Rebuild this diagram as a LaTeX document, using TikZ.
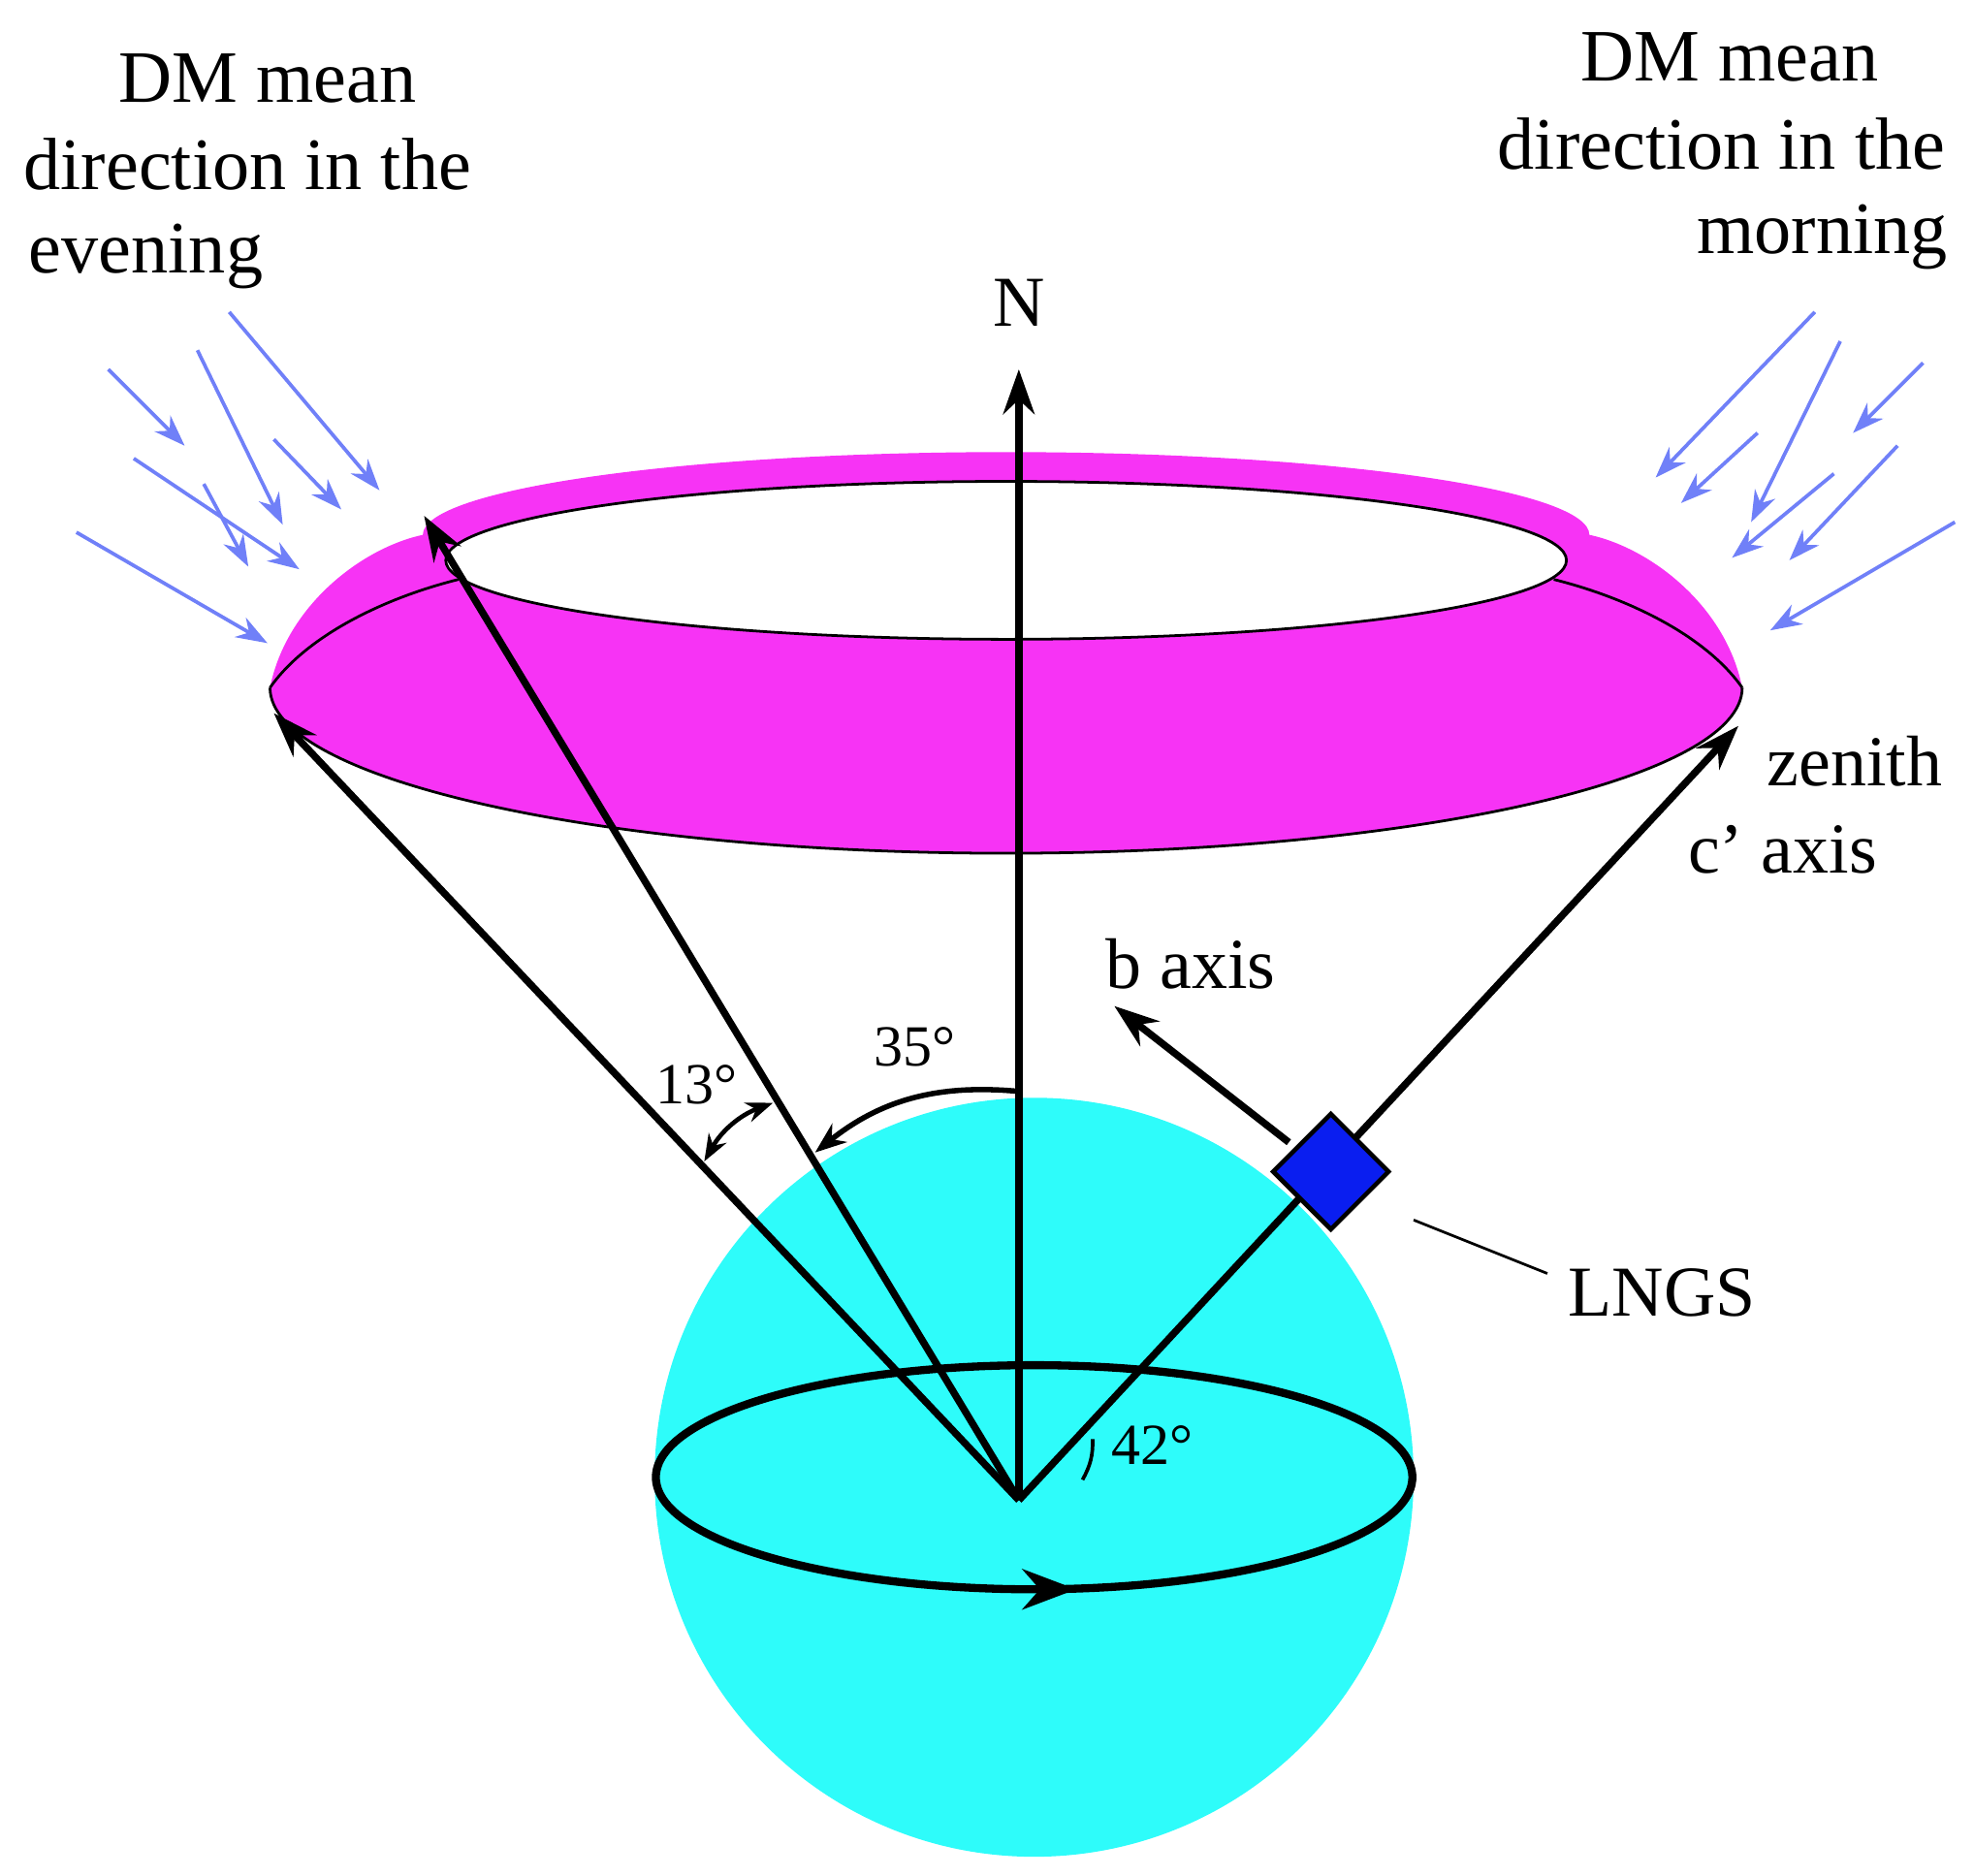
\documentclass[tikz,border=0pt]{standalone}
\usepackage{fontspec}
\setmainfont{Liberation Serif}
\usetikzlibrary{arrows.meta,calc}
\definecolor{pinkc}{HTML}{F733F5}
\definecolor{cyanc}{HTML}{2EFCFA}
\definecolor{boxc}{HTML}{0A1EF0}
\definecolor{dmc}{HTML}{7080F8}
\begin{document}
\begin{tikzpicture}[x=0.01cm,y=-0.01cm,
  vec/.style={line width=1.6pt,-{Stealth[length=10pt,width=7pt]}},
  dm/.style={dmc,line width=0.8pt,-{Stealth[length=7pt,width=5pt]}},
  lab/.style={font=\fontsize{16}{19}\selectfont},
  tlab/.style={font=\fontsize{16.5}{19}\selectfont,inner sep=0pt}]
\useasboundingbox (0,0) rectangle (1550,1473);
% sphere
\fill[cyanc] (812,1160) circle (298);
\draw[line width=1.8pt] (812,1160) ellipse (297 and 88);
\draw[line width=1.8pt,-{Stealth[length=12pt,width=9pt]}] (800,1248) -- (845,1248);
% ring
\fill[pinkc] (212,540) .. controls (225,475) and (285,430) .. (332,420) arc (180:360:458 and 65) .. controls (1295,430) and (1355,475) .. (1368,540) arc (0:180:578 and 130) -- cycle;
\fill[white] (790,440) ellipse (440 and 62);
\draw[line width=0.6pt] (790,440) ellipse (440 and 62);
\draw[line width=0.6pt] (212,540) arc (180:0:578 and 130);
\draw[line width=0.6pt] (212,540) .. controls (240,500) and (300,470) .. (360,455);
\draw[line width=0.6pt] (1368,540) .. controls (1340,500) and (1280,470) .. (1220,455);
% vectors
\coordinate (O) at (800,1178);
\coordinate (N) at (800,290);
\coordinate (L) at (215,560);
\coordinate (T) at (333,405);
\coordinate (Z) at (1365,570);
\coordinate (B) at (875,790);
\coordinate (S) at (1045,920);
\draw[vec] (O) -- (N);
\draw[vec] (O) -- (L);
\draw[vec] (O) -- (T);
\draw[vec] (O) -- (Z);
\draw[vec] (1012,897) -- (B);
\fill[boxc,draw=black,line width=1pt,rotate around={45:(S)}] ($(S)+(-32,-32)$) rectangle ($(S)+(32,32)$);
\node[lab] (n) at (800,238) {N};
\node[lab] (b) at (935,757) {b axis};
\node[lab,anchor=west] (z) at (1375,598) {zenith};
\node[lab,anchor=west] (c) at (1313,667) {c' axis};
\node[lab] (lngs) at (1305,1015) {LNGS};
\draw[line width=0.6pt] (1110,958) -- (1215,1000);
% angles
\draw[line width=1pt,{Stealth[length=6pt]}-{Stealth[length=6pt]}] (553,912) to[bend left=20] (607,866);
\draw[line width=1.2pt,{Stealth[length=7pt]}-] (640,905) to[bend left=22] (800,857);
\draw[line width=0.8pt] (850,1162) to[bend right=15] (858,1130);
\node[lab,font=\fontsize{13}{15}\selectfont] (a13) at (547,852) {13°};
\node[lab,font=\fontsize{13}{15}\selectfont] (a35) at (718,822) {35°};
\node[lab,font=\fontsize{13}{15}\selectfont] (a42) at (905,1135) {42°};
% texts
\node[tlab,anchor=north] (t1) at (210,42) {DM mean};
\node[tlab,anchor=north west] (t2) at (18,108) {direction in the};
\node[tlab,anchor=north west] (t3) at (22,175) {evening};
\node[tlab,anchor=north] (t4) at (1358,25) {DM mean};
\node[tlab,anchor=north east] (t5) at (1528,92) {direction in the};
\node[tlab,anchor=north east] (t6) at (1530,160) {morning};
% DM arrows left
\draw[dm] (85,290) -- (145,350);
\draw[dm] (180,245) -- (298,385);
\draw[dm] (155,275) -- (222,412);
\draw[dm] (105,360) -- (235,447);
\draw[dm] (60,418) -- (210,505);
\draw[dm] (160,380) -- (195,445);
\draw[dm] (215,345) -- (268,400);
% DM arrows right
\draw[dm] (1425,245) -- (1300,375);
\draw[dm] (1445,268) -- (1375,410);
\draw[dm] (1510,285) -- (1455,340);
\draw[dm] (1535,410) -- (1390,495);
\draw[dm] (1380,340) -- (1320,395);
\draw[dm] (1440,372) -- (1360,438);
\draw[dm] (1490,350) -- (1405,440);
\end{tikzpicture}
\end{document}
